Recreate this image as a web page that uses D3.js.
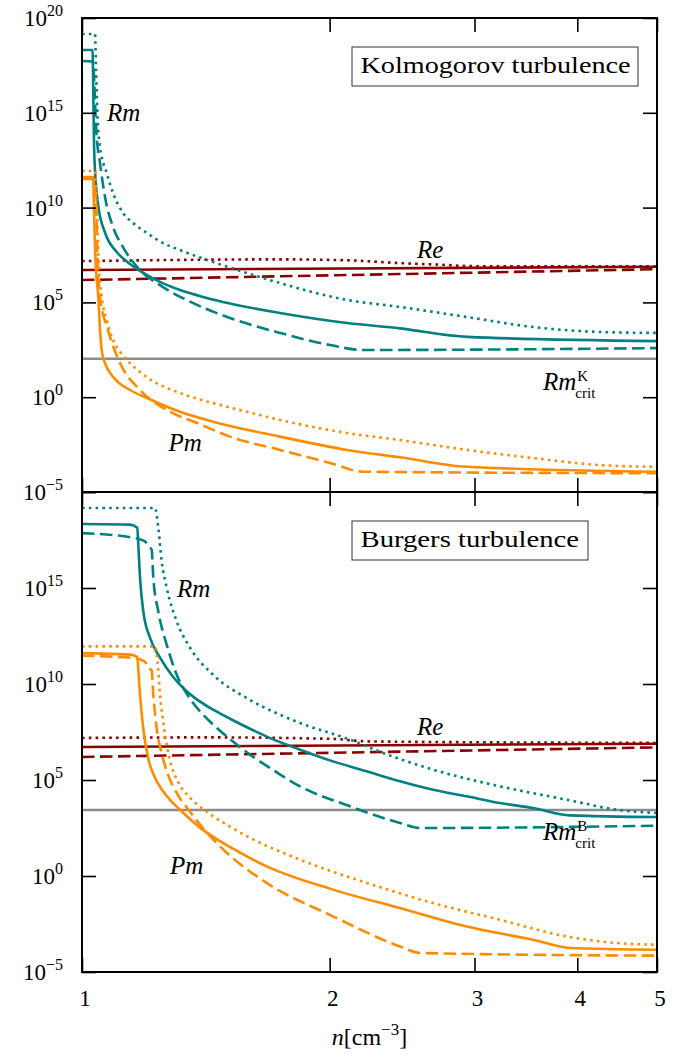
<!DOCTYPE html>
<html><head><meta charset="utf-8">
<script src="https://cdn.jsdelivr.net/npm/d3@7"></script>
<style>
body{margin:0;background:#fff}
svg{display:block}
text{font-family:"Liberation Serif","Times New Roman",serif;fill:#000}
</style>
</head><body>
<svg id="c" width="694" height="1057"></svg>
<script>
// ---------- data (points are [n in cm^-3, log10 of quantity]) ----------
const xTickValues = [1, 2, 3, 4, 5];
const yTickExponents = [-5, 0, 5, 10, 15, 20];
const panelNames = ["Kolmogorov turbulence", "Burgers turbulence"];
const rmCritValues = [107, 2718];
const rmCritSup = ["K", "B"];

// Kolmogorov turbulence
const kolRmSolid = [[1,18.31],[1.030,18.31],[1.0325,15.5],[1.034,13.6],[1.037,11.98],[1.047,10.05],[1.067,8.66],[1.1020,7.66],[1.1438,7.03],[1.1763,6.66],[1.2440,6.08],[1.3157,5.65],[1.4110,5.26],[1.5133,4.94],[1.7406,4.44],[2.0995,3.91],[2.435,3.63],[2.94,3.18],[5,2.96]];
const kolRmDashed = [[1,17.73],[1.031,17.70],[1.034,17.0],[1.037,15.6],[1.041,14.0],[1.0517,12.35],[1.0665,10.56],[1.0907,8.98],[1.1216,7.92],[1.1664,6.87],[1.2545,5.81],[1.353,5.04],[1.513,4.18],[1.741,3.39],[2.002,2.75],[2.196,2.49],[5,2.59]];
const kolRmDotted = [[1,19.16],[1.0371,19.16],[1.0400,17.26],[1.0449,14.62],[1.0517,13.21],[1.0716,11.82],[1.0907,10.77],[1.1216,9.72],[1.1534,9.19],[1.1995,8.66],[1.2545,8.13],[1.3157,7.76],[1.419,7.24],[1.587,6.55],[1.7406,6.02],[2.0995,5.13],[2.4353,4.76],[2.9375,4.23],[3.5337,3.70],[4.2624,3.44],[5,3.39]];
const kolReSolid = [[1,6.71],[5,6.88]];
const kolReDashed = [[1,6.18],[5,6.75]];
const kolReDotted = [[1,7.18],[1.74,7.27],[2.1,7.22],[2.44,7.07],[2.72,6.99],[3.0,6.91],[5,6.90]];
const kolPmSolid = [[1,11.61],[1.0313,11.61],[1.0336,10.40],[1.0356,8.82],[1.0400,6.71],[1.0467,5.30],[1.0517,3.54],[1.0576,2.38],[1.0665,1.80],[1.0907,1.08],[1.1438,0.38],[1.1995,-0.04],[1.3157,-0.77],[1.4429,-1.29],[1.7406,-2.08],[2.0995,-2.78],[2.4353,-3.17],[2.9375,-3.67],[5,-3.93]];
const kolPmDashed = [[1,11.51],[1.0313,11.51],[1.0342,11.40],[1.0400,10.40],[1.0443,7.24],[1.0517,5.28],[1.0755,3.54],[1.1122,1.80],[1.1763,0.38],[1.2686,-0.68],[1.3797,-1.36],[1.5133,-2.08],[1.7406,-2.78],[2.0020,-3.47],[2.1957,-3.93],[5,-4.01]];
const kolPmDotted = [[1,11.93],[1.0371,11.93],[1.0414,10.40],[1.0473,7.24],[1.0567,5.30],[1.0716,4.07],[1.0907,3.02],[1.1153,2.33],[1.1534,1.65],[1.2029,1.01],[1.3157,0.22],[1.4429,-0.31],[1.5870,-0.77],[1.7406,-1.20],[2.0995,-1.89],[2.4353,-2.26],[2.9375,-2.78],[3.5337,-3.21],[4.2624,-3.58],[5,-3.67]];

// Burgers turbulence
const burRmSolid = [[1,18.33],[1.1438,18.30],[1.1674,18.14],[1.1707,17.26],[1.1763,15.54],[1.1872,13.78],[1.2096,12.41],[1.2440,11.37],[1.2901,10.38],[1.3342,9.70],[1.3914,9.08],[1.4510,8.61],[1.5133,8.19],[1.6004,7.67],[1.6769,7.26],[1.8408,6.58],[2.0189,5.97],[2.2185,5.45],[2.4353,4.93],[2.6710,4.49],[2.9351,4.15],[3.2219,3.80],[3.5337,3.54],[3.9192,3.16],[5,3.07]];
const burRmDashed = [[1,17.86],[1.1599,17.60],[1.1928,17.43],[1.2039,17.17],[1.2154,16.99],[1.2209,15.54],[1.2381,13.78],[1.2675,12.05],[1.3035,10.48],[1.3530,9.23],[1.4110,8.30],[1.4714,7.57],[1.5260,7.00],[1.6004,6.32],[1.6769,5.74],[1.8408,4.67],[2.1173,3.63],[2.4353,2.76],[2.5755,2.50],[5,2.62]];
const burRmDotted = [[1,19.17],[1.2267,19.17],[1.2381,18.13],[1.2499,16.39],[1.2675,15.02],[1.3035,13.26],[1.3530,11.89],[1.4429,10.48],[1.5856,9.27],[1.7406,8.40],[1.8408,7.97],[2.1173,7.10],[2.3221,6.41],[2.6710,5.54],[3.2219,4.67],[3.8866,3.97],[4.4705,3.45],[5,3.28]];
const burReSolid = [[1,6.72],[5,6.89]];
const burReDashed = [[1,6.20],[5,6.70]];
const burReDotted = [[1,7.19],[1.41,7.22],[2.02,7.14],[2.22,7.01],[5,6.93]];
const burPmSolid = [[1,11.61],[1.1438,11.53],[1.1674,11.40],[1.1707,10.74],[1.1763,9.44],[1.1872,7.67],[1.2046,6.06],[1.2267,5.12],[1.2510,4.49],[1.2793,3.97],[1.3157,3.45],[1.3914,2.52],[1.5260,1.42],[1.6769,0.50],[2.0189,-0.71],[2.4353,-1.67],[2.9351,-2.63],[3.5337,-3.32],[3.9192,-3.75],[5,-3.84]];
const burPmDashed = [[1,11.47],[1.1599,11.35],[1.1928,11.16],[1.2039,10.85],[1.2154,10.69],[1.2209,9.44],[1.2326,7.67],[1.2510,6.32],[1.2722,5.28],[1.3010,4.39],[1.3530,3.35],[1.4149,2.31],[1.4994,1.21],[1.6769,-0.36],[2.0189,-2.10],[2.4353,-3.67],[2.5755,-4.01],[5,-4.15]];
const burPmDotted = [[1,11.96],[1.2267,11.96],[1.2353,11.16],[1.2440,9.44],[1.2580,7.72],[1.2793,6.01],[1.3083,4.91],[1.3530,4.08],[1.4229,3.30],[1.5133,2.57],[1.6004,1.99],[1.8408,0.85],[2.2185,-0.36],[2.6710,-1.41],[3.2219,-2.28],[3.8834,-3.15],[4.4668,-3.49],[5,-3.58]];

// label anchors [n, log10 baseline]
const kolLabelPos = {Rm:[1.0725,14.57], Re:[2.554,7.34], crit:[3.634,0.38], Pm:[1.274,-2.84]};
const burLabelPos = {Rm:[1.3046,14.55], Re:[2.554,7.36], crit:[3.634,1.89], Pm:[1.2793,0.12]};

// ---------- drawing ----------
const svg = d3.select("#c");
const xL = 82, xR = 657;
const x = d3.scaleLog().domain([1, 5]).range([xL, xR]);
const colors = {Rm:"#008080", Pm:"#ff8c00", Re:"#8b0000", crit:"#8c8c8c"};
const dashes = {solid:null, dashed:"12.5,5.5", dotted:"2.6,4.2"};
const LW = 2.6;

const panels = [
  {top:18, bottom:492, title:panelNames[0], crit:rmCritValues[0], sup:rmCritSup[0], lab:kolLabelPos, boxW:286, textW:270,
   lines:[["Re","dotted",kolReDotted],["Re","dashed",kolReDashed],["Re","solid",kolReSolid],
          ["Rm","dotted",kolRmDotted],["Rm","dashed",kolRmDashed],["Rm","solid",kolRmSolid],
          ["Pm","dotted",kolPmDotted],["Pm","dashed",kolPmDashed],["Pm","solid",kolPmSolid]]},
  {top:492, bottom:972, title:panelNames[1], crit:rmCritValues[1], sup:rmCritSup[1], lab:burLabelPos, boxW:236, textW:218.6,
   lines:[["Re","dotted",burReDotted],["Re","dashed",burReDashed],["Re","solid",burReSolid],
          ["Rm","dotted",burRmDotted],["Rm","dashed",burRmDashed],["Rm","solid",burRmSolid],
          ["Pm","dotted",burPmDotted],["Pm","dashed",burPmDashed],["Pm","solid",burPmSolid]]}
];

panels.forEach((p, i) => {
  const y = d3.scaleLog().domain([1e-5, 1e20]).range([p.bottom, p.top]);
  const g = svg.append("g");
  const clipId = "clip" + i;
  svg.append("clipPath").attr("id", clipId).append("rect")
    .attr("x", xL).attr("y", p.top).attr("width", xR - xL).attr("height", p.bottom - p.top);
  const plot = g.append("g").attr("clip-path", `url(#${clipId})`);

  // critical Rm line
  plot.append("line").attr("x1", x(1)).attr("x2", x(5)).attr("y1", y(p.crit)).attr("y2", y(p.crit))
    .attr("stroke", colors.crit).attr("stroke-width", LW);

  const line = d3.line().x(d => x(d[0])).y(d => y(Math.pow(10, d[1]))).curve(d3.curveMonotoneX);
  p.lines.forEach(([q, s, d]) => {
    plot.append("path").attr("d", line(d)).attr("fill", "none")
      .attr("stroke", colors[q]).attr("stroke-width", LW)
      .attr("stroke-dasharray", dashes[s]).attr("stroke-linecap", "butt").attr("stroke-linejoin", "round");
  });

  // axes (inward ticks on all sides)
  const yt = yTickExponents.map(e => Math.pow(10, e));
  const styleAx = s => { s.select(".domain").remove(); s.selectAll("line").attr("stroke", "#000").attr("stroke-width", 1.6); s.selectAll("text").remove(); };
  g.append("g").attr("transform", `translate(${xL},0)`).call(d3.axisLeft(y).tickValues(yt).tickSize(-14)).call(styleAx);
  g.append("g").attr("transform", `translate(${xR},0)`).call(d3.axisRight(y).tickValues(yt).tickSize(-14)).call(styleAx);
  g.append("g").attr("transform", `translate(0,${p.bottom})`).call(d3.axisBottom(x).tickValues(xTickValues).tickSize(-14)).call(styleAx);
  g.append("g").attr("transform", `translate(0,${p.top})`).call(d3.axisTop(x).tickValues(xTickValues).tickSize(-14)).call(styleAx);

  // frame
  g.append("rect").attr("x", xL).attr("y", p.top).attr("width", xR - xL).attr("height", p.bottom - p.top)
    .attr("fill", "none").attr("stroke", "#000").attr("stroke-width", 2);

  // y tick labels
  yTickExponents.forEach(e => {
    if (i === 1 && e === 20) return;
    const t = g.append("text").attr("x", 63).attr("y", y(Math.pow(10, e)) + 8)
      .attr("text-anchor", "end").style("font-size", "23px");
    t.append("tspan").text("10");
    t.append("tspan").attr("dy", -10).style("font-size", "16px").text(e < 0 ? "\u2212" + (-e) : String(e));
  });

  // title box
  const bx = 352, by = p.top + 29;
  g.append("rect").attr("x", bx).attr("y", by).attr("width", p.boxW).attr("height", 39)
    .attr("fill", "#fff").attr("stroke", "#333").attr("stroke-width", 1);
  g.append("text").attr("x", bx + 8.5).attr("y", by + 26).style("font-size", "24px")
    .attr("textLength", p.textW).attr("lengthAdjust", "spacingAndGlyphs").text(p.title);

  // curve labels
  const lab = (pos) => [x(pos[0]), y(Math.pow(10, pos[1]))];
  const addItalic = (pos, txt) => {
    const [lx, ly] = lab(pos);
    return g.append("text").attr("x", lx).attr("y", ly).style("font-size", "25px").style("font-style", "italic").text(txt);
  };
  addItalic(p.lab.Rm, "Rm");
  addItalic(p.lab.Re, "Re");
  addItalic(p.lab.Pm, "Pm");
  const rc = addItalic(p.lab.crit, "Rm");
  const w = rc.node().getComputedTextLength();
  const [cx, cy] = lab(p.lab.crit);
  g.append("text").attr("x", cx + w + 1).attr("y", cy - 8.5).style("font-size", "15px").text(p.sup);
  g.append("text").attr("x", cx + w - 1).attr("y", cy + 8.5).style("font-size", "15px").text("crit");
});

// x tick labels (bottom panel)
xTickValues.forEach(v => {
  svg.append("text").attr("x", x(v) + 3).attr("y", 1006).attr("text-anchor", "middle")
    .style("font-size", "23px").text(String(v));
});

// x axis title
const xt = svg.append("text").attr("x", (xL + xR) / 2).attr("y", 1045).attr("text-anchor", "middle").style("font-size", "24px");
xt.append("tspan").style("font-style", "italic").text("n");
xt.append("tspan").text("[cm");
xt.append("tspan").attr("dy", -10).style("font-size", "17px").text("\u22123");
xt.append("tspan").attr("dy", 10).text("]");
</script>
</body></html>
